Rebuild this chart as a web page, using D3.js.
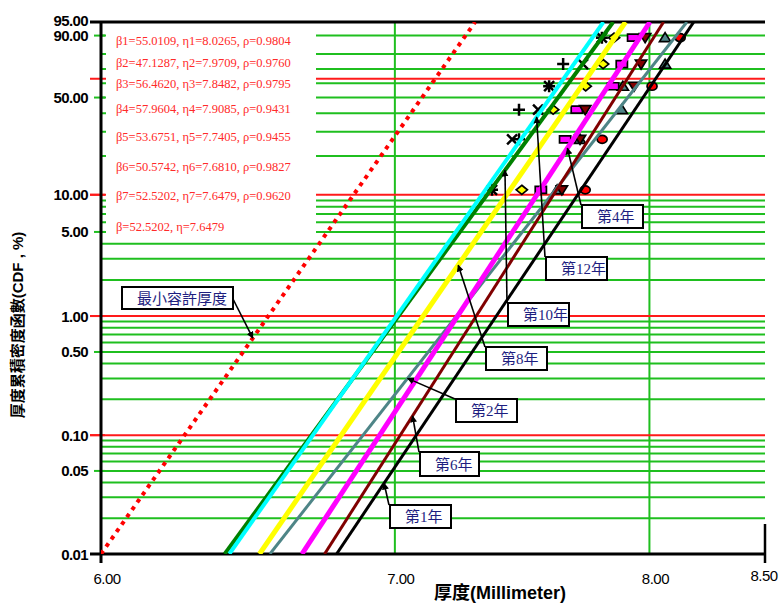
<!DOCTYPE html>
<html>
<head>
<meta charset="utf-8">
<script src="https://cdn.jsdelivr.net/npm/d3@7"></script>
<style>
  body { margin: 0; background: #fff; }
  svg { display: block; }
</style>
</head>
<body>
<svg id="chart" width="780" height="603"></svg>
<script>
// ---- Weibull fits for each inspection year ----
const years = ["第1年", "第2年", "第4年", "第6年", "第8年", "第10年", "第12年"];
const betas = [55.0109, 47.1287, 56.4620, 57.9604, 53.6751, 50.5742, 52.5202];
const etas  = [8.0265, 7.9709, 7.8482, 7.9085, 7.7405, 7.6810, 7.6479];
const rhos  = [0.9804, 0.9760, 0.9795, 0.9431, 0.9455, 0.9827, 0.9620];

// median-rank plotting positions (%) for six readings
const rankPct = [10.94, 26.56, 42.19, 57.81, 73.44, 89.06];

// measured thickness (mm), smallest to largest; null = reading not plotted
const thickY1  = [7.735, 7.804, null,  8.011, null,  8.130];
const thickY2  = [7.622, 7.714, 7.885, 7.889, 8.066, 8.066];
const thickY4  = [7.557, 7.654, 7.701, 7.849, 7.885, 7.932];
const thickY6  = [7.641, 7.714, 7.735, 7.936, 7.965, 7.982];
const thickY8  = [7.482, null,  7.606, 7.737, 7.808, 7.853];
const thickY10 = [7.366, 7.444, 7.546, 7.590, 7.726, 7.803];
const thickY12 = [7.366, 7.471, 7.471, 7.590, 7.646, 7.803];
const thickness = [thickY1, thickY2, thickY4, thickY6, thickY8, thickY10, thickY12];

// minimum allowable thickness curve
const minBeta = 52.5202, minEta = 7.15;
const minLabel = "β=52.5202, η=7.6479";
const minName = "最小容許厚度";

// axis ticks
const xTicks = [6.00, 7.00, 8.00, 8.50];
const xTickLabels = ["6.00", "7.00", "8.00", "8.50"];
const yTicks = [0.01, 0.05, 0.10, 0.50, 1.00, 5.00, 10.00, 50.00, 90.00, 95.00];
const yTickLabels = ["0.01", "0.05", "0.10", "0.50", "1.00", "5.00", "10.00", "50.00", "90.00", "95.00"];
const gridPct = [0.02, 0.03, 0.04, 0.05, 0.06, 0.07, 0.08, 0.09,
                 0.2, 0.3, 0.4, 0.5, 0.6, 0.7, 0.8, 0.9,
                 2, 3, 4, 5, 6, 7, 8, 9,
                 20, 30, 40, 50, 60, 70, 80, 90];
const redPct = [0.1, 1, 10, 63.2];
const xGrid = [7.00, 8.00];

// ---- styling ----
const lineColors = ["#000000", "#4e8587", "#ff00ff", "#800000", "#ffff00", "#008000", "#00ffff"];
const lineWidths = [3, 3, 5, 3, 5, 4, 4];
const markerTypes = ["circle", "triUp", "rect", "triDown", "diamond", "cross", "plus"];
const markerFills = ["#ff0000", "#4e8587", "#ff00ff", "#800000", "#ffff00", "none", "none"];
const GREEN = "#1fbf1f", RED = "#ff1a1a", NAVY = "#1e1e80";

const W = 780, H = 603;
const L = 101, R = 765, T = 22, B = 554;

// Weibull probability transform
const yT = p => Math.log(-Math.log(1 - p / 100));
const x = d3.scaleLog().domain([6, 8.5]).range([L, R]);
const y = d3.scaleLinear().domain([yT(0.01), yT(95)]).range([B, T]);

const svg = d3.select("#chart");
svg.append("rect").attr("width", W).attr("height", H).attr("fill", "#fff");

svg.append("clipPath").attr("id", "plot")
  .append("rect").attr("x", L).attr("y", T).attr("width", R - L).attr("height", B - T);

// ---- gridlines ----
const grid = svg.append("g");
grid.selectAll(".hg").data(gridPct).join("line")
  .attr("x1", L).attr("x2", R)
  .attr("y1", d => y(yT(d))).attr("y2", d => y(yT(d)))
  .attr("stroke", GREEN).attr("stroke-width", 2);
grid.selectAll(".vg").data(xGrid).join("line")
  .attr("x1", d => x(d)).attr("x2", d => x(d))
  .attr("y1", T).attr("y2", B)
  .attr("stroke", GREEN).attr("stroke-width", 2);
grid.selectAll(".rg").data(redPct).join("line")
  .attr("x1", L - 11).attr("x2", R)
  .attr("y1", d => y(yT(d))).attr("y2", d => y(yT(d)))
  .attr("stroke", RED).attr("stroke-width", 2);

// ---- fitted parameter text block ----
const legendY = [40, 62, 83, 108, 136, 166, 195, 226];
svg.append("rect").attr("x", 106).attr("y", T + 2).attr("width", 210).attr("height", 216).attr("fill", "#fff");
const legendText = betas.map((b, i) =>
  `β${i + 1}=${b.toFixed(4)}, η${i + 1}=${etas[i].toFixed(4)}, ρ=${rhos[i].toFixed(4)}`).concat([minLabel]);
svg.append("g").selectAll("text").data(legendText).join("text")
  .attr("x", 116).attr("y", (d, i) => legendY[i] + 4.5)
  .attr("font-family", "'Liberation Serif','Times New Roman',serif")
  .attr("font-size", 12.5).attr("fill", "#ff2a2a")
  .text(d => d);

// ---- axes ----
const labelled = svg.append("g");
labelled.selectAll("line").data(yTicks).join("line")
  .attr("x1", d => (redPct.includes(d) || d === 0.01 || d === 95) ? L - 11 : L - 7)
  .attr("x2", L + 4)
  .attr("y1", d => y(yT(d))).attr("y2", d => y(yT(d)))
  .attr("stroke", d => (d === 0.01 || d === 95) ? "#000" : (redPct.includes(d) ? RED : GREEN))
  .attr("stroke-width", 2);
labelled.selectAll("text").data(yTicks).join("text")
  .attr("x", 88).attr("y", d => y(yT(d)) + (d === 95 ? 4 : 5.5))
  .attr("text-anchor", "end")
  .attr("font-family", "'Liberation Sans',Arial,sans-serif")
  .attr("font-weight", "bold").attr("font-size", 15).attr("letter-spacing", -0.6)
  .text((d, i) => yTickLabels[i]);

// frame lines
svg.append("line").attr("x1", L - 11).attr("x2", R).attr("y1", T).attr("y2", T)
  .attr("stroke", "#000").attr("stroke-width", 3);
svg.append("line").attr("x1", L - 11).attr("x2", R + 1).attr("y1", B).attr("y2", B)
  .attr("stroke", "#000").attr("stroke-width", 3);
svg.append("line").attr("x1", L).attr("x2", L).attr("y1", T).attr("y2", B + 9)
  .attr("stroke", "#000").attr("stroke-width", 3);
svg.append("line").attr("x1", R).attr("x2", R).attr("y1", B - 30).attr("y2", B + 9)
  .attr("stroke", "#000").attr("stroke-width", 2.5);

const xLab = svg.append("g");
xLab.selectAll("text").data(xTicks).join("text")
  .attr("x", d => Math.min(x(d) + 6, W - 16))
  .attr("y", (d, i) => i === xTicks.length - 1 ? 581 : 584)
  .attr("text-anchor", "middle")
  .attr("font-family", "'Liberation Sans Narrow','Liberation Sans',Arial,sans-serif")
  .attr("font-size", 15).attr("letter-spacing", -0.5)
  .text((d, i) => xTickLabels[i]);

svg.append("text").attr("x", 500).attr("y", 599).attr("text-anchor", "middle")
  .attr("font-family", "'Liberation Sans','Noto Sans CJK TC',sans-serif")
  .attr("font-weight", "bold").attr("font-size", 18)
  .text("厚度(Millimeter)");

svg.append("text")
  .attr("transform", "translate(23,325) rotate(-90)")
  .attr("text-anchor", "middle")
  .attr("font-family", "'Liberation Sans','Noto Sans CJK TC',sans-serif")
  .attr("font-weight", "bold").attr("font-size", 15)
  .text("厚度累積密度函數(CDF , %)");

// ---- data markers ----
const shapes = {
  circle:  "M-5,0A5,4 0 1,0 5,0A5,4 0 1,0 -5,0Z",
  triUp:   "M0,-5L5.6,4L-5.6,4Z",
  rect:    "M-5.6,-3.5H5.6V3.5H-5.6Z",
  triDown: "M-5.6,-4L5.6,-4L0,5Z",
  diamond: "M0,-4.6L5.6,0L0,4.6L-5.6,0Z",
  cross:   "M-5,-5L5,5M-5,5L5,-5",
  plus:    "M-6,0H6M0,-6V6"
};
const pts = svg.append("g").attr("clip-path", "url(#plot)");
thickness.forEach((series, s) => {
  const recs = series.map((v, i) => ({ v, p: rankPct[i] })).filter(d => d.v !== null);
  pts.append("g").selectAll("path").data(recs).join("path")
    .attr("transform", d => `translate(${x(d.v)},${y(yT(d.p))})`)
    .attr("d", shapes[markerTypes[s]])
    .attr("fill", markerFills[s])
    .attr("stroke", "#000")
    .attr("stroke-width", markerFills[s] === "none" ? 2.5 : 1.7)
    .attr("stroke-linejoin", "miter");
});

// ---- fitted Weibull lines: ln(-ln(1-F)) = beta*ln(x) - beta*ln(eta) ----
const tRange = [yT(0.01), yT(95)];
const lineGen = d3.line().x(d => x(d[0])).y(d => y(d[1]));
const fit = (beta, eta) => tRange.map(t => [eta * Math.exp(t / beta), t]);
const lines = svg.append("g").attr("clip-path", "url(#plot)");
lines.append("path")
  .attr("d", lineGen(fit(minBeta, minEta)))
  .attr("fill", "none").attr("stroke", "#ff0000").attr("stroke-width", 4)
  .attr("stroke-dasharray", "4 5");
betas.forEach((b, s) => {
  lines.append("path")
    .attr("d", lineGen(fit(b, etas[s])))
    .attr("fill", "none").attr("stroke", lineColors[s]).attr("stroke-width", lineWidths[s]);
});

// ---- callouts ----
const calloutSeries = [0, 1, 2, 3, 4, 5, 6];
const calloutTipPct = [0.0394, 0.30, 22.9, 0.145, 2.66, 15.6, 37.8];
const calloutBoxes = [[390, 505, 61, 23], [456, 399, 61, 23], [582, 205, 61, 23], [420, 452, 59, 24],
                      [486, 347, 61, 23], [508, 303, 61, 23], [546, 257, 61, 23]];
const minTipPct = 0.654, minBox = [122, 287, 111, 22];

svg.append("defs").append("marker")
  .attr("id", "arrow").attr("viewBox", "0 0 10 10").attr("refX", 9).attr("refY", 5)
  .attr("markerWidth", 7).attr("markerHeight", 7).attr("orient", "auto")
  .attr("markerUnits", "userSpaceOnUse")
  .append("path").attr("d", "M0,0L10,5L0,10Z").attr("fill", "#000");

const callouts = calloutSeries.map((s, i) => {
  const t = yT(calloutTipPct[i]);
  const box = calloutBoxes[i];
  return { text: years[s], box, from: [box[0] - 1, box[1]],
           tip: [x(etas[s] * Math.exp(t / betas[s])), y(t)] };
});
{
  const t = yT(minTipPct);
  callouts.push({ text: minName, box: minBox, from: [minBox[0] + minBox[2], minBox[1] + 12],
                  tip: [x(minEta * Math.exp(t / minBeta)), y(t)], sans: true });
}
const cg = svg.append("g");
callouts.forEach(c => {
  cg.append("line")
    .attr("x1", c.from[0]).attr("y1", c.from[1]).attr("x2", c.tip[0]).attr("y2", c.tip[1])
    .attr("stroke", "#000").attr("stroke-width", 1.6).attr("marker-end", "url(#arrow)");
  cg.append("rect")
    .attr("x", c.box[0]).attr("y", c.box[1]).attr("width", c.box[2]).attr("height", c.box[3])
    .attr("fill", "#fff").attr("stroke", "#000").attr("stroke-width", 2);
  cg.append("text")
    .attr("x", c.box[0] + 15).attr("y", c.box[1] + c.box[3] / 2 + 5.5)
    .attr("font-family", c.sans ? "'Noto Sans CJK TC',sans-serif"
                                : "'Liberation Serif','Times New Roman','Noto Sans CJK TC',serif")
    .attr("font-size", 15).attr("fill", NAVY)
    .text(c.text);
});
</script>
</body>
</html>
